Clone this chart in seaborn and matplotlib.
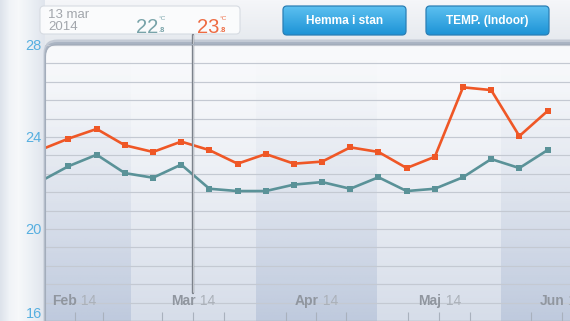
import numpy as np
import pandas as pd
import matplotlib
matplotlib.use("Agg")
import matplotlib.pyplot as plt
import matplotlib.dates as mdates
from matplotlib.patches import FancyBboxPatch
from matplotlib.colors import to_rgb
import seaborn as sns

# ---------------- data ----------------
week_dates = pd.date_range("2014-02-06 12:00", periods=19, freq="7D")
temp_teal = [22.07, 22.73, 23.23, 22.43, 22.23, 22.8, 21.75, 21.65, 21.65, 21.93,
             22.04, 21.75, 22.25, 21.65, 21.75, 22.25, 23.04, 22.65, 23.43]
temp_orange = [23.44, 23.93, 24.35, 23.64, 23.35, 23.8, 23.43, 22.84, 23.26, 22.84,
               22.93, 23.55, 23.35, 22.65, 23.14, 26.16, 26.04, 24.04, 25.13]
series_names = ["Sensor 1", "Sensor 2"]
month_starts = pd.date_range("2014-02-01", "2014-06-01", freq="MS")
month_names = ["Feb", "Mar", "Apr", "Maj", "Jun"]
year_label = "14"
y_ticks = [16, 20, 24, 28]
grid_step = 0.8
readout_index = 5
readout_month_abbr = ["jan", "feb", "mar", "apr", "maj", "jun", "jul", "aug", "sep", "okt", "nov", "dec"]
button_labels = ["Hemma i stan", "TEMP. (Indoor)"]
x_start = pd.Timestamp("2014-02-07 16:00")
x_end = pd.Timestamp("2014-06-18 02:00")
cursor_date = pd.Timestamp("2014-03-16 10:00")
y_min, y_max = 16, 28

TEAL = "#5a9298"
ORANGE = "#ef5726"

# ---------------- setup ----------------
sns.set_theme(style="white")
plt.rcParams["font.family"] = ["Liberation Sans", "DejaVu Sans"]

W, H = 570, 321
fig = plt.figure(figsize=(W / 100, H / 100), dpi=100)

# background / UI layer in pixel coordinates (y down)
bg = fig.add_axes([0, 0, 1, 1], zorder=0)
bg.set_axis_off()

img = np.ones((H, W, 3)) * np.array([235, 238, 242]) / 255
top_c = np.array([245, 246, 249]) / 255
bot_c = np.array([229, 233, 238]) / 255
for yy in range(44):
    t = yy / 43
    img[yy, :, :] = top_c * (1 - t) + bot_c * t
px_pts = [0, 9, 18, 30, 44]
cols = np.array([[221, 227, 235], [240, 243, 247], [246, 248, 250], [236, 240, 245], [224, 229, 237]]) / 255
for c in range(3):
    prof = np.interp(np.arange(45), px_pts, cols[:, c])
    img[:, :45, c] = prof[None, :]
bg.imshow(img, extent=[0, W, H, 0], aspect="auto", zorder=0, interpolation="bilinear")

# panel shadow rim
shadow = FancyBboxPatch((43.5, 39.5), 700, 400, boxstyle="round,pad=0,rounding_size=14",
                        facecolor="#c3cad5", edgecolor="none", zorder=1)
bg.add_patch(shadow)
shadow2 = FancyBboxPatch((44.5, 42), 700, 400, boxstyle="round,pad=0,rounding_size=13",
                         facecolor="#aab4c3", edgecolor="none", zorder=1.1)
bg.add_patch(shadow2)

# info box
info = FancyBboxPatch((40, 6), 200, 28, boxstyle="round,pad=0,rounding_size=4",
                      facecolor="#fbfcfd", edgecolor="#d5dae1", linewidth=0.8, alpha=0.95, zorder=2)
bg.add_patch(info)

rd = week_dates[readout_index]
bg.text(48, 15.3, f"{rd.day} {readout_month_abbr[rd.month - 1]}", ha="left", va="center",
        fontsize=9.5, color="#a2a6ac", zorder=3)
bg.text(48, 27, f"{rd.year}", ha="left", va="center", fontsize=9.5, color="#a2a6ac", zorder=3)


def readout(x, val, color):
    whole = int(val)
    frac = int(round((val - whole) * 10))
    bg.text(x, 33, f"{whole}", ha="left", va="baseline", fontsize=14.5, color=color, zorder=3)
    bg.text(x + 23, 18.5, "°C", ha="left", va="center", fontsize=4.6, color=color, zorder=3)
    bg.text(x + 22.5, 31.5, f".{frac}", ha="left", va="baseline", fontsize=5.4, color=color,
            fontweight="bold", zorder=3)


readout(136, temp_teal[readout_index], "#78a3a9")
readout(197, temp_orange[readout_index], "#ee6b42")

# buttons
grad = np.linspace(0, 1, 40)[:, None, None]
b_top = np.array(to_rgb("#5cc0f0"))
b_bot = np.array(to_rgb("#1d93d6"))
bimg = b_top * (1 - grad) + b_bot * grad
for bx, label in zip([283, 426], button_labels):
    bp = FancyBboxPatch((bx, 6), 123, 29, boxstyle="round,pad=0,rounding_size=4",
                        facecolor="none", edgecolor="#2b7fb5", linewidth=0.9, zorder=3)
    bg.add_patch(bp)
    im = bg.imshow(bimg, extent=[bx, bx + 123, 35, 6], aspect="auto", zorder=2.5,
                   interpolation="bilinear")
    im.set_clip_path(bp)
    bg.text(bx + 61.5, 21, label, ha="center", va="center", fontsize=8.6,
            color="white", fontweight="bold", zorder=4)

bg.set_xlim(0, W)
bg.set_ylim(H, 0)

# ---------------- main chart ----------------
ax = fig.add_axes([45 / W, 0, (W - 45) / W, (H - 45) / H], zorder=1)
ax.patch.set_visible(False)

df = pd.DataFrame({
    "date": list(week_dates) * 2,
    "temp": temp_teal + temp_orange,
    "sensor": [series_names[0]] * len(temp_teal) + [series_names[1]] * len(temp_orange),
})
sns.lineplot(data=df, x="date", y="temp", hue="sensor", hue_order=series_names,
             palette={series_names[0]: TEAL, series_names[1]: ORANGE},
             marker="s", markersize=3.8, markeredgewidth=0, linewidth=1.9,
             legend=False, ax=ax, zorder=5)

x0, x1 = mdates.date2num(x_start), mdates.date2num(x_end)

panel_clip = FancyBboxPatch((45.5, 44.5), 700, 400, boxstyle="round,pad=0,rounding_size=12",
                            transform=bg.transData, facecolor="none", edgecolor="none")

# plot background gradient
N = 200
t = np.linspace(0, 1, N)[:, None, None]
c_top = np.array(to_rgb("#f9fafc"))
c_bot = np.array(to_rgb("#d6dde9"))
tt = t ** 1.3
back = c_top * (1 - tt) + c_bot * tt
im0 = ax.imshow(back, extent=[x0, x1, y_min, y_max], aspect="auto", zorder=0,
                interpolation="bilinear")
im0.set_clip_path(panel_clip)

# alternating month bands
band_rgba = np.zeros((N, 1, 4))
band_rgba[:, 0, :3] = to_rgb("#93a6c8")
band_rgba[:, 0, 3] = 0.34 * (np.linspace(0, 1, N) ** 1.5)
month_ends = list(month_starts[1:]) + [month_starts[-1] + pd.offsets.MonthBegin(1)]
for i, (s, e) in enumerate(zip(month_starts, month_ends)):
    if i % 2 == 0:
        imb = ax.imshow(band_rgba, extent=[mdates.date2num(s), mdates.date2num(e), y_min, y_max],
                        aspect="auto", zorder=0.2, interpolation="bilinear")
        imb.set_clip_path(panel_clip)

ax.set_xlim(x0, x1)
ax.set_ylim(y_min, y_max)

# y axis
ax.set_yticks(y_ticks)
ax.set_yticklabels([str(v) for v in y_ticks])
ax.set_yticks(np.arange(y_min + grid_step, y_max - 0.01, grid_step), minor=True)
ax.tick_params(axis="y", which="both", length=0, pad=2.3, labelsize=10.5, labelcolor="#56afe0")
ylabels = ax.get_yticklabels()
ylabels[0].set_va("bottom")
ax.grid(True, which="both", axis="y", color="#c4c9d2", linewidth=0.85)
ax.grid(False, axis="x")

# x axis: quarter-month ticks, month labels
qticks = []
for s in month_starts:
    n = s.days_in_month
    for f in (0.25, 0.5, 0.75):
        d = s + pd.Timedelta(days=n * f)
        if x_start + pd.Timedelta(days=1) < d < x_end:
            qticks.append(mdates.date2num(d))
ax.set_xticks([])
ax.set_xticks(qticks, minor=True)
ax.tick_params(axis="x", which="minor", direction="in", length=6.5, width=0.8,
               color="#a9b1bd", labelbottom=False, bottom=True)
ax.tick_params(axis="x", which="major", length=0, labelbottom=False)
ax.set_xlabel("")
ax.set_ylabel("")

for s, name in zip(month_starts, month_names):
    mid = mdates.date2num(s + pd.Timedelta(days=s.days_in_month / 2))
    mt = ax.annotate(name, xy=(mid, 0.074), xycoords=("data", "axes fraction"),
                     xytext=(2, 0), textcoords="offset points", ha="right", va="center",
                     fontsize=10, color="#90969f", fontweight="bold", zorder=6,
                     annotation_clip=False)
    ax.annotate(" " + year_label, xy=(1, 0.5), xycoords=mt, ha="left", va="center",
                fontsize=10, color="#abb1b9", zorder=6)

for side in ["top", "right", "left"]:
    ax.spines[side].set_visible(False)
ax.spines["bottom"].set_color("#a9b1bd")
ax.spines["bottom"].set_linewidth(1.0)

# cursor
cx = mdates.date2num(cursor_date)
ymin_frac = (17.22 - y_min) / (y_max - y_min)
ymax_frac = 1 + 10 / 276
ax.axvline(cx, ymin=ymin_frac, ymax=ymax_frac, color="#7c828b", linewidth=1.7,
           solid_capstyle="round", clip_on=False, zorder=7)
ax.axvline(cx, ymin=ymin_frac + 0.002, ymax=ymax_frac, color="#d8dbe0", linewidth=0.55,
           clip_on=False, zorder=7.1)

# panel edge line on top
rim = FancyBboxPatch((45.5, 44.5), 700, 400, boxstyle="round,pad=0,rounding_size=12",
                     transform=bg.transData, facecolor="none", edgecolor="#a3adbb",
                     linewidth=0.8, zorder=8)
fig.add_artist(rim)

fig.savefig("out.png", dpi=100)
